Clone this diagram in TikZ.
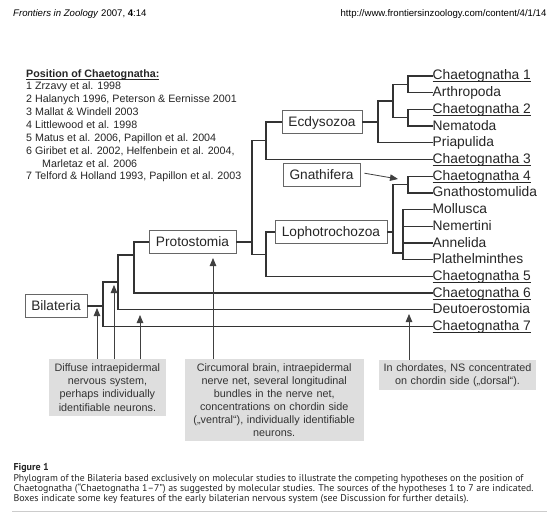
\documentclass[tikz,border=0pt]{standalone}
\usepackage{fontspec}
\usepackage{graphicx}
\setmainfont{Liberation Sans}
\newfontfamily\capfont{PT Sans}
\usetikzlibrary{arrows.meta}
\newcommand{\ulin}[1]{\setbox0\hbox{#1}\rlap{\vrule height -1.4pt depth 2.4pt width \wd0}\box0}
\newcommand{\capline}[2]{\resizebox{#1}{\height}{#2}}
\begin{document}
\begin{tikzpicture}[x=1pt,y=-1pt,
 taxon/.style={anchor=west, inner sep=0pt, text height=8pt, text depth=0pt, font=\fontsize{13.8}{16}\selectfont, text=black!85},
 clade/.style={draw=black!60, line width=0.8pt, fill=white, inner xsep=0pt, inner ysep=0pt, minimum height=23pt, text height=9.8pt, text depth=0pt, font=\fontsize{13.7}{16}\selectfont, text=black!85},
 br/.style={line width=1.3pt, draw=black!80},
 info/.style={fill=black!13, inner sep=0pt, align=center, font=\fontsize{10.8}{13.1}\selectfont, text=black!80},
 ptr/.style={-{Triangle[width=6.5pt,length=8pt]}, line width=0.8pt, draw=black!75},
 leg/.style={anchor=base west, inner sep=0pt, font=\fontsize{10.7}{13}\selectfont, text=black!85},
 hdr/.style={inner sep=0pt, font=\fontsize{9.6}{11}\selectfont, text=black},
 captxt/.style={anchor=base west, inner sep=0pt, font=\capfont\fontsize{9.8}{10}\selectfont, text=black!85},
]
\fill[white] (0,0) rectangle (559,516);
\useasboundingbox (0,0) rectangle (559,516);

% header
\node[hdr, anchor=base west] (h1) at (13,16.8) {\textit{Frontiers in Zoology} 2007, \textbf{4}:14};
\node[hdr, anchor=base east] (h2) at (546.6,16.8) {http://www.frontiersinzoology.com/content/4/1/14};

% legend
\node[leg] (l0) at (26,77.4) {\textbf{\ulin{Position of Chaetognatha:}}};
\node[leg] (l1) at (26,89.9) {1 Zrzavy et al. 1998};
\node[leg] (l2) at (26,102.8) {2 Halanych 1996, Peterson \& Eernisse 2001};
\node[leg] (l3) at (26,115.6) {3 Mallat \& Windell 2003};
\node[leg] (l4) at (26,128.5) {4 Littlewood et al. 1998};
\node[leg] (l5) at (26,141.3) {5 Matus et al. 2006, Papillon et al. 2004};
\node[leg] (l6) at (26,154.2) {6 Giribet et al. 2002, Helfenbein et al. 2004,};
\node[leg] (l6b) at (42,167.1) {Marletaz et al. 2006};
\node[leg] (l7) at (26,179.9) {7 Telford \& Holland 1993, Papillon et al. 2003};

% taxa
\node[taxon] (c1) at (432.5,76) {\ulin{Chaetognatha 1}};
\node[taxon] (ar) at (432.5,92.7) {Arthropoda};
\node[taxon] (c2) at (432.5,109.4) {\ulin{Chaetognatha 2}};
\node[taxon] (ne) at (432.5,126.1) {Nematoda};
\node[taxon] (pr) at (432.5,142.8) {Priapulida};
\node[taxon] (c3) at (432.5,159.5) {\ulin{Chaetognatha 3}};
\node[taxon] (c4) at (432.5,176.2) {\ulin{Chaetognatha 4}};
\node[taxon] (gn) at (432.5,192.9) {Gnathostomulida};
\node[taxon] (mo) at (432.5,209.6) {Mollusca};
\node[taxon] (nm) at (432.5,226.3) {Nemertini};
\node[taxon] (an) at (432.5,243) {Annelida};
\node[taxon] (pl) at (432.5,259.7) {Plathelminthes};
\node[taxon] (c5) at (432.5,276.4) {\ulin{Chaetognatha 5}};
\node[taxon] (c6) at (432.5,293.1) {\ulin{Chaetognatha 6}};
\node[taxon] (de) at (432.5,309.8) {Deutoerostomia};
\node[taxon] (c7) at (432.5,326.5) {\ulin{Chaetognatha 7}};

% clade boxes
\node[clade, minimum width=80pt] (ecd) at (322,121.9) {Ecdysozoa};
\node[clade, minimum width=77pt] (gna) at (321.5,174.5) {Gnathifera};
\node[clade, minimum width=112pt] (lop) at (331,232) {Lophotrochozoa};
\node[clade, minimum width=87pt] (pro) at (192.5,242) {Protostomia};
\node[clade, minimum width=62pt] (bil) at (56,306) {Bilateria};

% junctions
\coordinate (jA) at (408,84.35);
\coordinate (jB) at (408,117.75);
\coordinate (jAB) at (393,101.05);
\coordinate (jEcd) at (378,121.9);
\coordinate (jE1) at (266,140.7);
\coordinate (jG) at (408,184.55);
\coordinate (jPoly) at (403,253);
\coordinate (jLop) at (393,232);
\coordinate (jL1) at (266,254.2);
\coordinate (jP1) at (252,242);
\coordinate (jQ) at (134,255);
\coordinate (jR) at (118,282);
\coordinate (jS) at (103,306);

% branches
\draw[br] (jA) |- (c1.west);
\draw[br] (jA) |- (ar.west);
\draw[br] (jB) |- (c2.west);
\draw[br] (jB) |- (ne.west);
\draw[br] (jAB) |- (jA);
\draw[br] (jAB) |- (jB);
\draw[br] (jEcd) |- (jAB);
\draw[br] (jEcd) |- (pr.west);
\draw[br] (ecd.east) -- (jEcd);
\draw[br] (jE1) |- (ecd.west);
\draw[br] (jE1) |- (c3.west);
\draw[br] (jG) |- (c4.west);
\draw[br] (jG) |- (gn.west);
\draw[br] (jPoly) |- (mo.west);
\draw[br] (jPoly) |- (nm.west);
\draw[br] (jPoly) |- (an.west);
\draw[br] (jPoly) |- (pl.west);
\draw[br] (jLop) |- (jG);
\draw[br] (jLop) |- (jPoly);
\draw[br] (lop.east) -- (jLop);
\draw[br] (jL1) |- (lop.west);
\draw[br] (jL1) |- (c5.west);
\draw[br] (jP1) |- (jE1);
\draw[br] (jP1) |- (jL1);
\draw[br] (pro.east) -- (jP1);
\draw[br] (jQ) |- (pro.west);
\draw[br] (jQ) |- (c6.west);
\draw[br] (jR) |- (jQ);
\draw[br] (jR) |- (de.west);
\draw[br] (jS) |- (jR);
\draw[br] (jS) |- (c7.west);
\draw[br] (bil.east) -- (jS);

% Gnathifera pointer
\coordinate (gtip) at (398,179);
\draw[ptr, shorten <=4pt] ([yshift=2pt]gna.east) -- (gtip);

% info boxes
\node[info, text width=116.5pt, minimum height=56.7pt] (ib1) at (107.4,387.5)
 {Diffuse intraepidermal\\nervous system,\\perhaps individually\\identifiable neurons.};
\node[info, text width=179.2pt, minimum height=82pt] (ib2) at (274.2,400)
 {Circumoral brain, intraepidermal\\nerve net, several longitudinal\\bundles in the nerve net,\\concentrations on chordin side\\(„ventral“), individually identifiable\\neurons.};
\node[info, text width=156.6pt, minimum height=30pt] (ib3) at (457.5,375)
 {In chordates, NS concentrated\\on chordin side („dorsal“).};

\coordinate (t1) at (97,308);
\coordinate (t2) at (114,285);
\coordinate (t3) at (140,315);
\coordinate (t4) at (213,258);
\coordinate (t5) at (409,314);
\draw[ptr] (ib1.north -| t1) -- (t1);
\draw[ptr] (ib1.north -| t2) -- (t2);
\draw[ptr] (ib1.north -| t3) -- (t3);
\draw[ptr] (ib2.north -| t4) -- (t4);
\draw[ptr] (ib3.north -| t5) -- (t5);

% caption
\node[captxt, font=\capfont\bfseries\fontsize{10}{10}\selectfont] (fig) at (13.3,470.7) {Figure 1};
\node[captxt] (cp1) at (13.3,481) {\capline{510pt}{Phylogram of the Bilateria based exclusively on molecular studies to illustrate the competing hypotheses on the position of}};
\node[captxt] (cp2) at (13.3,491) {\capline{520pt}{Chaetognatha (“Chaetognatha 1–7”) as suggested by molecular studies. The sources of the hypotheses 1 to 7 are indicated.}};
\node[captxt] (cp3) at (13.3,501) {\capline{455pt}{Boxes indicate some key features of the early bilaterian nervous system (see Discussion for further details).}};
\coordinate (r1) at (12,511);
\coordinate (r2) at (547,511);
\draw[black!20, line width=0.6pt] (r1) -- (r2);
\end{tikzpicture}
\end{document}
